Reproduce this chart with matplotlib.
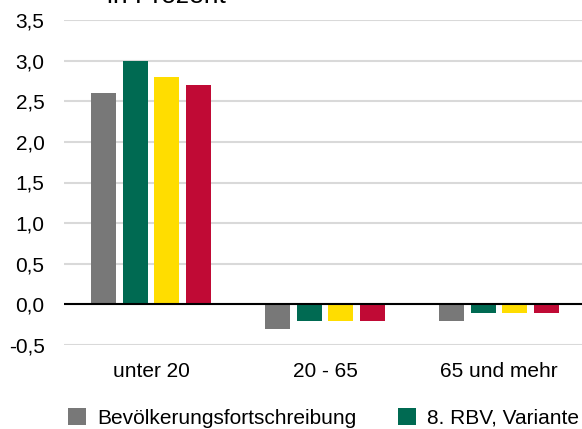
import matplotlib.pyplot as plt
import numpy as np

plt.rcParams['font.family'] = ['Liberation Sans', 'DejaVu Sans']

categories = ["unter 20", "20 - 65", "65 und mehr"]
series_names = ["Bevölkerungsfortschreibung", "8. RBV, Variante 1",
                "8. RBV, Variante 2", "8. RBV, Variante 3"]
values = [
    [2.6, -0.3, -0.2],
    [3.0, -0.2, -0.1],
    [2.8, -0.2, -0.1],
    [2.7, -0.2, -0.1],
]
colors = ["#787878", "#006a52", "#ffdd00", "#c00a35"]
yticks = [-0.5, 0.0, 0.5, 1.0, 1.5, 2.0, 2.5, 3.0, 3.5]

W, H = 582, 429
fig = plt.figure(figsize=(W / 100, H / 100), dpi=100)
ax = fig.add_axes([64 / W, 84 / H, 522 / W, 325 / H])

x = np.arange(len(categories))
width = 0.144
step = 0.181
handles = []
for i, (vals, col) in enumerate(zip(values, colors)):
    b = ax.bar(x + (i - 1.5) * step, vals, width, color=col, zorder=3)
    handles.append(b)

ax.set_xlim(-0.5, 2.5)
ax.set_ylim(-0.5, 3.5)
ax.set_yticks(yticks)
ax.set_yticklabels([f"{t:.1f}".replace(".", ",") for t in yticks])
ax.set_xticks(x)
ax.set_xticklabels(categories)
ax.tick_params(length=0, labelsize=15)
ax.tick_params(axis="y", pad=14)
ax.tick_params(axis="x", pad=12)
for s in ax.spines.values():
    s.set_visible(False)
ax.yaxis.grid(True, color="#d9d9d9", linewidth=1.5, zorder=0)
ax.axhline(0, color="black", linewidth=1.5, zorder=4)

# title sits above the visible area, only its lower part shows
fig.text(107 / W, 1 - 3 / H, "in Prozent", fontsize=19, va="baseline", ha="left")

fig.legend(handles, series_names, loc="upper left", ncol=4,
           bbox_to_anchor=(68 / W, 1 - 408 / H), frameon=False, fontsize=15,
           handlelength=0.864, handleheight=0.864, handletextpad=0.53,
           columnspacing=2.0, borderpad=0, borderaxespad=0)

fig.savefig("out.png", dpi=100)
